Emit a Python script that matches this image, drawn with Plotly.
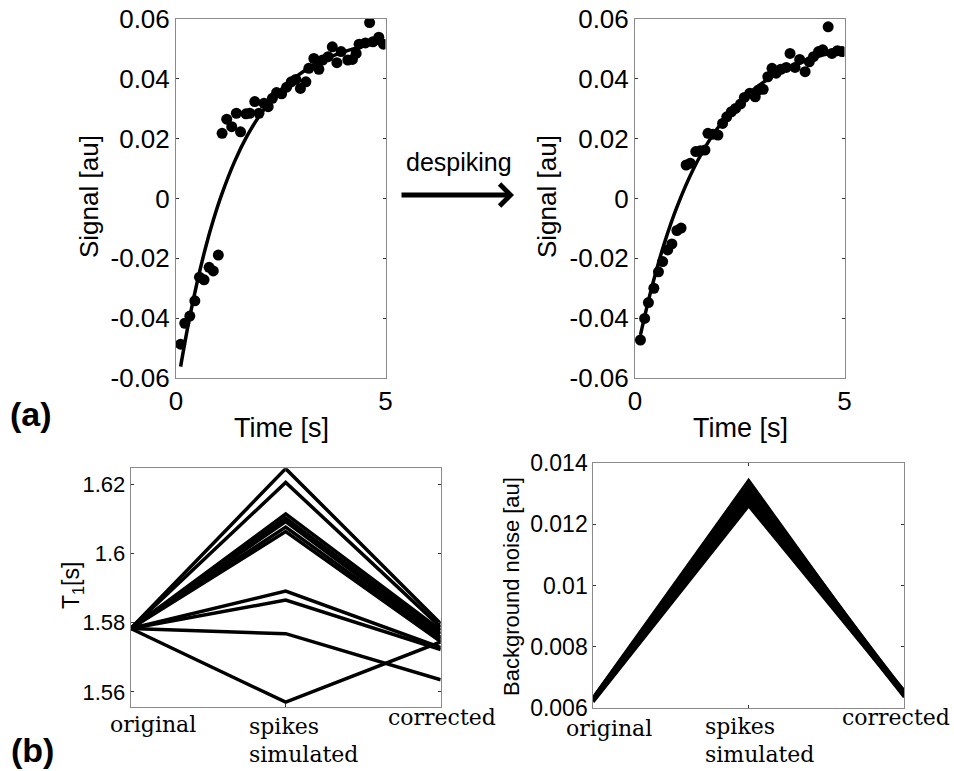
import plotly.graph_objects as go

# ---------------- data ----------------
# (a) left: before despiking
time_before = [0.11, 0.21, 0.33, 0.45, 0.56, 0.67, 0.79, 0.89, 1.01, 1.10, 1.21, 1.33, 1.44, 1.54,
               1.67, 1.76, 1.88, 1.98, 2.10, 2.20, 2.30, 2.40, 2.52, 2.64, 2.75, 2.86, 2.97, 3.10,
               3.17, 3.29, 3.41, 3.50, 3.63, 3.73, 3.84, 3.94, 4.10, 4.21, 4.30, 4.37, 4.52, 4.62,
               4.70, 4.84, 4.95]
signal_before = [-0.0487, -0.0417, -0.0393, -0.0342, -0.0263, -0.0272, -0.0230, -0.0242, -0.0189,
                 0.0218, 0.0265, 0.0240, 0.0285, 0.0223, 0.0283, 0.0285, 0.0324, 0.0285, 0.0318,
                 0.0307, 0.0335, 0.0354, 0.0350, 0.0372, 0.0390, 0.0398, 0.0368, 0.0390, 0.0435,
                 0.0468, 0.0432, 0.0463, 0.0474, 0.0507, 0.0454, 0.0491, 0.0463, 0.0465, 0.0485,
                 0.0516, 0.0520, 0.0588, 0.0524, 0.0539, 0.0516]
fit_time_before = [0.11, 0.3, 0.5, 0.7, 0.9, 1.1, 1.4, 1.7, 2.0, 2.4, 2.8, 3.4, 4.0, 4.5, 4.95]
fit_signal_before = [-0.0562, -0.0416, -0.0283, -0.0167, -0.0068, 0.0017, 0.0124, 0.0210, 0.0278,
                     0.0349, 0.0401, 0.0455, 0.0490, 0.0510, 0.0522]

# (a) right: after despiking
time_after = [0.13, 0.23, 0.32, 0.45, 0.56, 0.66, 0.78, 0.88, 1.00, 1.10, 1.22, 1.32, 1.45, 1.56,
              1.67, 1.74, 1.86, 1.98, 2.09, 2.19, 2.30, 2.40, 2.52, 2.61, 2.74, 2.87, 2.95, 3.06,
              3.17, 3.27, 3.37, 3.48, 3.61, 3.70, 3.82, 3.93, 4.06, 4.16, 4.26, 4.38, 4.48, 4.61,
              4.70, 4.83, 4.94]
signal_after = [-0.0473, -0.0401, -0.0348, -0.0300, -0.0245, -0.0211, -0.0172, -0.0152, -0.0107,
                -0.0099, 0.0112, 0.0118, 0.0157, 0.0160, 0.0162, 0.0218, 0.0215, 0.0212, 0.0251,
                0.0273, 0.0290, 0.0301, 0.0316, 0.0338, 0.0352, 0.0340, 0.0363, 0.0365, 0.0407,
                0.0435, 0.0419, 0.0432, 0.0438, 0.0485, 0.0438, 0.0465, 0.0424, 0.0457, 0.0474,
                0.0491, 0.0497, 0.0574, 0.0485, 0.0494, 0.0491]
fit_time_after = [0.13, 0.4, 0.7, 1.0, 1.4, 1.8, 2.3, 2.8, 3.4, 4.0, 4.5, 4.97]
fit_signal_after = [-0.0456, -0.0297, -0.0150, -0.0029, 0.0100, 0.0200, 0.0294, 0.0361, 0.0418,
                    0.0457, 0.0480, 0.0495]

# (b) categories
categories = ["original", "spikes simulated", "corrected"]

t1_original = [1.5783, 1.5783, 1.5783, 1.5783, 1.5783, 1.5783, 1.5783, 1.5783, 1.5783, 1.5783, 1.5783]
t1_spikes = [1.6245, 1.6205, 1.6114, 1.6102, 1.6092, 1.6076, 1.6063, 1.5891, 1.5865, 1.5768, 1.5570]
t1_corrected = [1.5797, 1.5787, 1.5778, 1.5768, 1.5758, 1.5752, 1.5745, 1.5728, 1.5722, 1.5635, 1.5744]

noise_original = [0.00620, 0.00622, 0.00623, 0.00625, 0.00626, 0.00627, 0.00628, 0.00629, 0.00630,
                  0.00631, 0.00632, 0.00634, 0.00636, 0.00638]
noise_spikes = [0.01258, 0.01263, 0.01268, 0.01272, 0.01277, 0.01282, 0.01288, 0.01295, 0.01302,
                0.01308, 0.01315, 0.01322, 0.01333, 0.01344]
noise_corrected = [0.00640, 0.00660, 0.00645, 0.00652, 0.00636, 0.00648, 0.00655, 0.00643, 0.00650,
                   0.00638, 0.00658, 0.00646, 0.00653, 0.00642]

signal_ticks = [-0.06, -0.04, -0.02, 0, 0.02, 0.04, 0.06]
signal_ticktext = ["-0.06", "-0.04", "-0.02", "0", "0.02", "0.04", "0.06"]
time_ticks = [0, 5]
t1_ticks = [1.56, 1.58, 1.6, 1.62]
t1_ticktext = ["1.56", "1.58", "1.6", "1.62"]
noise_ticks = [0.006, 0.008, 0.010, 0.012, 0.014]
noise_ticktext = ["0.006", "0.008", "0.01", "0.012", "0.014"]

# ---------------- layout helpers ----------------
W, H = 954, 771


def fx(px):
    return px / W


def fy(py):
    return 1 - py / H


SANS = "Liberation Sans, Arial, Helvetica, sans-serif"
SERIF = "DejaVu Serif, Cambria, serif"

fig = go.Figure()

# top-left
fig.add_trace(go.Scatter(x=fit_time_before, y=fit_signal_before, mode="lines",
                         line=dict(color="black", width=3.5, shape="spline"),
                         xaxis="x", yaxis="y", showlegend=False))
fig.add_trace(go.Scatter(x=time_before, y=signal_before, mode="markers",
                         marker=dict(color="black", size=11),
                         xaxis="x", yaxis="y", showlegend=False))
# top-right
fig.add_trace(go.Scatter(x=fit_time_after, y=fit_signal_after, mode="lines",
                         line=dict(color="black", width=3.5, shape="spline"),
                         xaxis="x2", yaxis="y2", showlegend=False))
fig.add_trace(go.Scatter(x=time_after, y=signal_after, mode="markers",
                         marker=dict(color="black", size=11),
                         xaxis="x2", yaxis="y2", showlegend=False))
# bottom-left
for a, b, c in zip(t1_original, t1_spikes, t1_corrected):
    fig.add_trace(go.Scatter(x=categories, y=[a, b, c], mode="lines",
                             line=dict(color="black", width=3.5),
                             xaxis="x3", yaxis="y3", showlegend=False))
# bottom-right
for a, b, c in zip(noise_original, noise_spikes, noise_corrected):
    fig.add_trace(go.Scatter(x=categories, y=[a, b, c], mode="lines",
                             line=dict(color="black", width=2.5),
                             xaxis="x4", yaxis="y4", showlegend=False))

axis_common = dict(showline=True, linecolor="#8a8a8a", linewidth=1, mirror="allticks",
                   ticks="inside", ticklen=3, tickcolor="#333333", tickwidth=1,
                   showgrid=False, zeroline=False, automargin=False)
top_font = dict(family=SANS, size=26, color="black")

fig.update_layout(
    width=W, height=H, margin=dict(l=0, r=0, t=0, b=0, pad=0, autoexpand=False),
    paper_bgcolor="white", plot_bgcolor="white", showlegend=False,
    xaxis=dict(domain=[fx(176), fx(385.5)], range=[0, 5], tickvals=time_ticks,
               tickfont=top_font, anchor="y", **axis_common),
    yaxis=dict(domain=[fy(378), fy(19)], range=[-0.06, 0.06], tickvals=signal_ticks,
               ticktext=signal_ticktext, tickfont=top_font, anchor="x", **axis_common),
    xaxis2=dict(domain=[fx(635), fx(844.5)], range=[0, 5], tickvals=time_ticks,
                tickfont=top_font, anchor="y2", **axis_common),
    yaxis2=dict(domain=[fy(378), fy(19)], range=[-0.06, 0.06], tickvals=signal_ticks,
                ticktext=signal_ticktext, tickfont=top_font, anchor="x2", **axis_common),
    xaxis3=dict(domain=[fx(130.7), fx(440.7)], type="category", range=[0, 2],
                showticklabels=False, anchor="y3", **axis_common),
    yaxis3=dict(domain=[fy(706.7), fy(468.3)], range=[1.5557, 1.6246], tickvals=t1_ticks,
                ticktext=t1_ticktext, tickfont=dict(family=SANS, size=22, color="black"),
                anchor="x3", **axis_common),
    xaxis4=dict(domain=[fx(593.3), fx(904)], type="category", range=[0, 2],
                showticklabels=False, anchor="y4", **axis_common),
    yaxis4=dict(domain=[fy(708.3), fy(462.7)], range=[0.006, 0.014], tickvals=noise_ticks,
                ticktext=noise_ticktext, tickfont=dict(family=SANS, size=23, color="black"),
                anchor="x4", **axis_common),
)

ann = []


def text(t, x, y, size, family=SANS, angle=0, xanchor="center", bold=False):
    ann.append(dict(text=("<b>%s</b>" % t) if bold else t, x=fx(x), y=fy(y),
                    xref="paper", yref="paper", showarrow=False, textangle=angle,
                    xanchor=xanchor, yanchor="middle",
                    font=dict(family=family, size=size, color="black")))


text("Signal [au]", 89, 197, 26, angle=-90)
text("Signal [au]", 547, 197, 26, angle=-90)
text("Time [s]", 281, 428, 27)
text("Time [s]", 740, 428, 27)
text("despiking", 459, 162, 25)
text("(a)", 31, 414, 34, bold=True)
text("(b)", 32, 750, 34, bold=True)
text("T<sub>1</sub>[s]", 72, 586, 23, angle=-90)
text("Background noise [au]", 511, 586, 22, angle=-90)

# category labels
first, second, third = categories
spk_a, spk_b = second.split(" ")
text(first, 153, 724, 22, family=SERIF)
text(spk_a, 247.3, 726, 22, family=SERIF, xanchor="left")
text(spk_b, 247.3, 754, 22, family=SERIF, xanchor="left")
text(third, 442, 717, 22, family=SERIF)
text(first, 609, 728, 22, family=SERIF)
text(spk_a, 702.7, 726, 22, family=SERIF, xanchor="left")
text(spk_b, 702.7, 754, 22, family=SERIF, xanchor="left")
text(third, 896, 717, 22, family=SERIF)

# arrow
ann.append(dict(text="", x=fx(514), y=fy(195), ax=-114, ay=0,
                xref="paper", yref="paper", axref="pixel", ayref="pixel",
                showarrow=True, arrowhead=4, arrowwidth=5, arrowsize=0.85,
                arrowcolor="black"))

fig.update_layout(annotations=ann)
fig.write_html("out.html", config={"displayModeBar": False},
               post_script="document.body.style.margin='0px';document.body.style.overflow='hidden';")
